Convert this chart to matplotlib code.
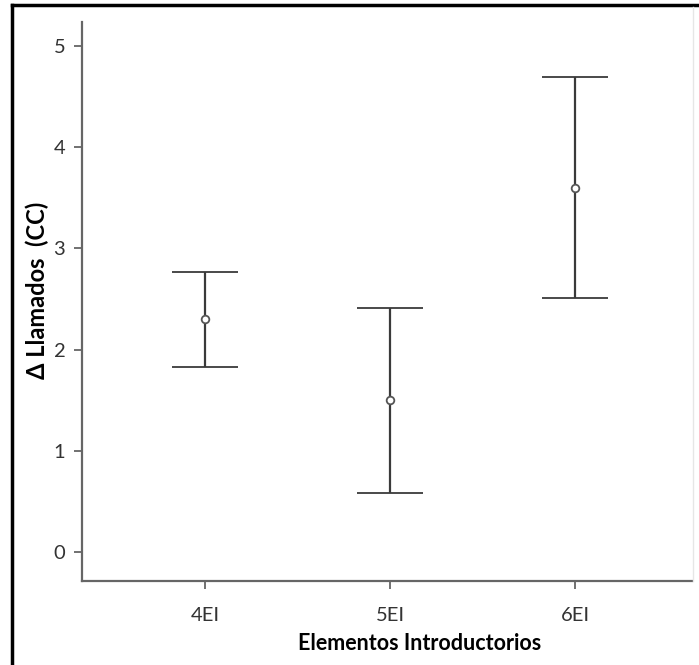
import matplotlib.pyplot as plt
from matplotlib.lines import Line2D

# data
groups = ['4EI', '5EI', '6EI']
means = [2.30, 1.50, 3.60]
upper = [2.77, 2.41, 4.70]
lower = [1.83, 0.58, 2.51]

plt.rcParams['font.family'] = ['Lato', 'DejaVu Sans']

fig = plt.figure(figsize=(6.99, 6.65), dpi=100)
ax = fig.add_axes([82 / 699, 84 / 665, 610 / 699, 559 / 665])

x = list(range(len(groups)))
err = [[m - lo for m, lo in zip(means, lower)],
       [up - m for m, up in zip(means, upper)]]
ax.errorbar(x, means, yerr=err, fmt='o', color='#3a3a3a', ecolor='#3a3a3a',
            elinewidth=1.6, capsize=24, capthick=2.0, markersize=5.5,
            markerfacecolor='white', markeredgecolor='#555555', markeredgewidth=1.3)

ax.set_xlim(-0.665, 2.63)
ax.set_ylim(-0.29, 5.24)
ax.set_xticks(x)
ax.set_xticklabels(groups)
ax.set_yticks([0, 1, 2, 3, 4, 5])

for side in ['top', 'right']:
    ax.spines[side].set_visible(False)
for side in ['left', 'bottom']:
    ax.spines[side].set_color('#666666')
    ax.spines[side].set_linewidth(1.6)
ax.tick_params(direction='out', length=6, width=1.3, color='#666666',
               labelsize=14.5, labelcolor='#333333')
ax.tick_params(axis='x', pad=13)
ax.tick_params(axis='y', pad=6)

ax.set_xlabel('Elementos Introductorios', fontsize=15.5, fontweight='bold', labelpad=6)
ax.xaxis.label.set_x(0.554)
ax.set_ylabel('Δ Llamados  (CC)', fontsize=17, fontweight='bold', labelpad=3)
ax.yaxis.label.set_y(0.52)

# frame around the picture (left and top edges visible)
fig.add_artist(Line2D([12 / 699, 12 / 699], [0, 1 - 5 / 665], color='black', lw=2.5,
                      transform=fig.transFigure))
fig.add_artist(Line2D([12 / 699, 1], [1 - 5 / 665, 1 - 5 / 665], color='black', lw=2.5,
                      transform=fig.transFigure))
fig.add_artist(Line2D([693 / 699, 693 / 699], [84 / 665, 1 - 7 / 665], color='#e6e6e6', lw=1,
                      transform=fig.transFigure))

fig.savefig('out.png', dpi=100)
